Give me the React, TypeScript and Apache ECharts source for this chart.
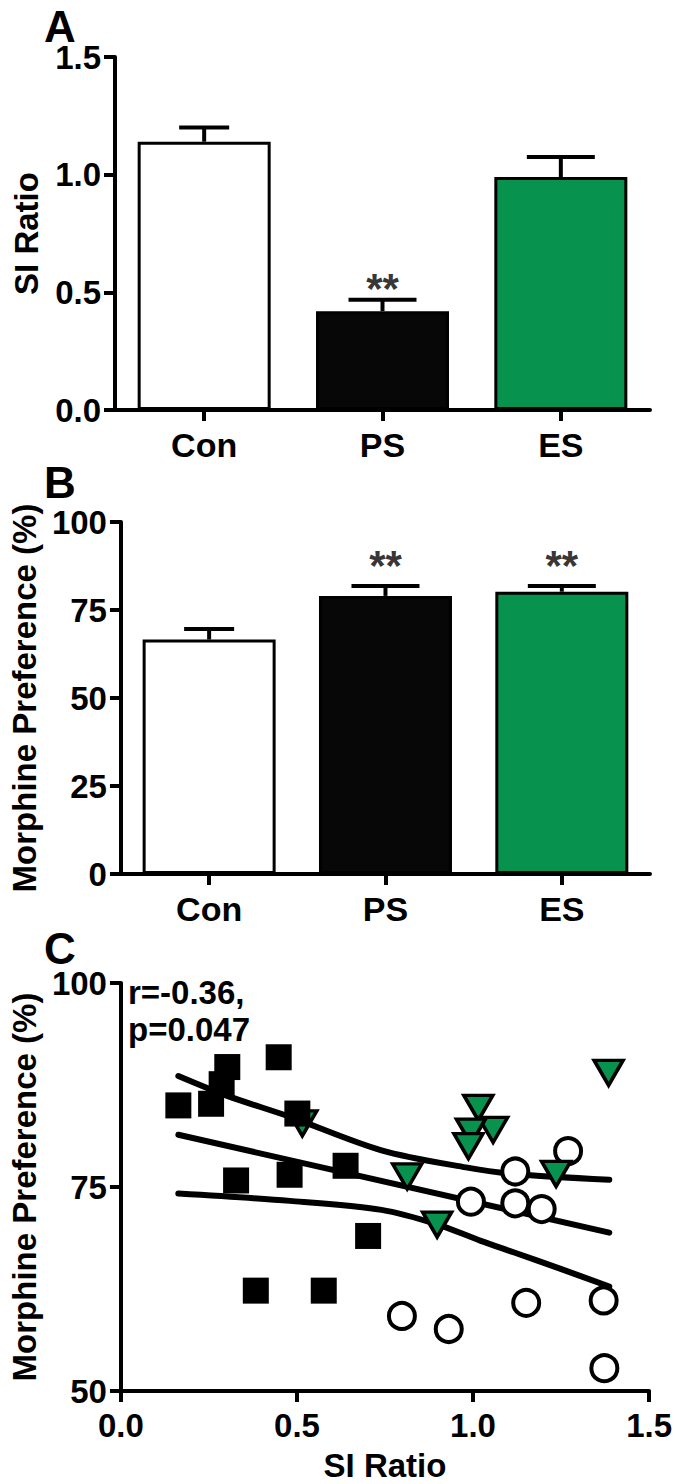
import React, { useEffect, useRef } from "react";
import * as echarts from "echarts";

// ---------- data ----------
const GROUPS = ["Con", "PS", "ES"];
const SI_MEAN = [1.14, 0.42, 0.99];
const SI_SEM = [0.06, 0.048, 0.085];
const PREF_MEAN = [66.6, 79.0, 80.2];
const PREF_SEM = [3.0, 2.8, 1.6];
// "**" significance marks: [group index, value position]
const SI_SIG = [[1, 0.515]];
const PREF_SIG = [[1, 87.6], [2, 87.6]];

// Panel C scatter: [SI ratio, morphine preference %]
const CON_POINTS = [
  [1.27, 79.4], [1.12, 76.9], [0.994, 73.2], [1.12, 73.0], [1.195, 72.3],
  [0.798, 59.2], [0.931, 57.6], [1.151, 60.8], [1.371, 61.1], [1.373, 52.8],
];
const PS_POINTS = [
  [0.163, 85.0], [0.256, 85.2], [0.286, 87.6], [0.302, 89.7], [0.448, 90.9],
  [0.501, 84.0], [0.327, 75.8], [0.479, 76.5], [0.638, 77.6], [0.702, 69.0],
  [0.383, 62.3], [0.576, 62.3],
];
const ES_POINTS = [
  [0.515, 82.8], [1.015, 84.7], [1.057, 82.0], [0.994, 81.8], [0.987, 80.0],
  [1.385, 89.0], [0.813, 76.3], [1.236, 76.6], [0.898, 70.4],
];
// regression line and 95% confidence band
const FIT_LINE = [[0.163, 81.4], [1.387, 69.4]];
const BAND_UPPER = [
  [0.163, 88.6], [0.3, 86.2], [0.48, 83.6], [0.74, 79.5], [0.98, 77.4], [1.115, 76.6], [1.387, 75.9],
];
const BAND_LOWER = [
  [0.163, 74.2], [0.48, 73.3], [0.74, 72.2], [0.9, 70.4], [1.022, 68.4], [1.115, 67.0], [1.247, 65.0], [1.387, 62.8],
];
const STATS_TEXT = ["r=-0.36,", "p=0.047"];

const SI_TICKS = { min: 0, max: 1.5, interval: 0.5 };
const PREF_TICKS = { min: 0, max: 100, interval: 25 };
const C_Y_TICKS = { min: 50, max: 100, interval: 25 };

// ---------- styles ----------
const FONT = "'Liberation Sans', Arial, Helvetica, sans-serif";
const BAR_COLORS = ["#ffffff", "#070707", "#07924e"];
const CAP_WIDTHS = [50, 68, 68];

const axisLineStyle = { show: true, lineStyle: { color: "#000", width: 4 } };
const axisTickStyle = { show: true, length: 11, lineStyle: { color: "#000", width: 4 } };

function makeErrRender() {
  return (params: any, api: any) => {
    const i = api.value(0);
    const m = api.value(1);
    const s = api.value(2);
    const p0 = api.coord([i, m]);
    const p1 = api.coord([i, m + s]);
    const hw = CAP_WIDTHS[i] / 2;
    return {
      type: "group",
      children: [
        { type: "line", shape: { x1: p0[0], y1: p0[1], x2: p1[0], y2: p1[1] }, style: { stroke: "#000", lineWidth: 4 } },
        { type: "line", shape: { x1: p1[0] - hw, y1: p1[1], x2: p1[0] + hw, y2: p1[1] }, style: { stroke: "#000", lineWidth: 4 } },
      ],
    };
  };
}

function catXAxis(gridIndex: number) {
  return {
    type: "category",
    gridIndex,
    data: GROUPS,
    axisLine: axisLineStyle,
    axisTick: { ...axisTickStyle, alignWithLabel: true },
    axisLabel: { color: "#000", fontFamily: FONT, fontWeight: "bold", fontSize: 34, lineHeight: 30, margin: 20 },
    splitLine: { show: false },
  };
}

function valYAxis(gridIndex: number, ticks: any, name: string, gap: number, decimals: number) {
  return {
    type: "value",
    gridIndex,
    min: ticks.min,
    max: ticks.max,
    interval: ticks.interval,
    name,
    nameLocation: "middle",
    nameGap: gap,
    nameTextStyle: { color: "#000", fontFamily: FONT, fontWeight: "bold", fontSize: 33 },
    axisLine: axisLineStyle,
    axisTick: axisTickStyle,
    axisLabel: {
      color: "#000", fontFamily: FONT, fontWeight: "bold", fontSize: 33, lineHeight: 22, margin: 14,
      formatter: (v: number) => v.toFixed(decimals),
    },
    splitLine: { show: false },
  };
}

function barSeries(idx: number, values: number[]) {
  return {
    type: "bar",
    xAxisIndex: idx,
    yAxisIndex: idx,
    barWidth: 133,
    z: 3,
    data: values.map((v, i) => ({
      value: v,
      itemStyle: { color: BAR_COLORS[i], borderColor: "#000", borderWidth: 3 },
    })),
  };
}

function errSeries(idx: number, means: number[], sems: number[]) {
  return {
    type: "custom",
    xAxisIndex: idx,
    yAxisIndex: idx,
    z: 2,
    renderItem: makeErrRender(),
    encode: { x: 0, y: 1 },
    data: means.map((m, i) => [i, m, sems[i]]),
  };
}

function sigSeries(idx: number, pts: number[][]) {
  return {
    type: "scatter",
    xAxisIndex: idx,
    yAxisIndex: idx,
    symbolSize: 1,
    itemStyle: { color: "rgba(0,0,0,0)" },
    label: {
      show: true, position: "inside", formatter: "**", color: "#000",
      fontFamily: FONT, fontWeight: "bold", fontSize: 42, lineHeight: 30,
    },
    data: pts,
  };
}

function lineSeries(data: number[][], smooth: number) {
  return {
    type: "line",
    xAxisIndex: 2,
    yAxisIndex: 2,
    data,
    smooth,
    showSymbol: false,
    z: 2,
    lineStyle: { color: "#000", width: 6, cap: "round" },
  };
}

export default function App() {
  const ref = useRef<HTMLDivElement>(null);
  useEffect(() => {
    if (!ref.current) return;
    const chart = echarts.init(ref.current, undefined, { renderer: "svg" });
    const letter = (t: string, y: number) => ({
      type: "text",
      left: 44,
      top: y,
      style: { text: t, fill: "#000", fontFamily: FONT, fontWeight: "bold", fontSize: 44 },
    });
    const statText = (t: string, y: number) => ({
      type: "text", left: 128, top: y,
      style: { text: t, fill: "#000", fontFamily: FONT, fontWeight: "bold", fontSize: 33 },
    });
    const option: any = {
      animation: false,
      backgroundColor: "#ffffff",
      grid: [
        { left: 115, width: 535, top: 57, height: 353 },
        { left: 116, width: 534, top: 522, height: 352 },
        { left: 116, width: 534, top: 983, height: 408 },
      ],
      xAxis: [
        catXAxis(0),
        catXAxis(1),
        {
          type: "value",
          gridIndex: 2,
          min: 0,
          max: 1.5,
          interval: 0.5,
          name: "SI Ratio",
          nameLocation: "middle",
          nameGap: 58,
          nameTextStyle: { color: "#000", fontFamily: FONT, fontWeight: "bold", fontSize: 33 },
          axisLine: axisLineStyle,
          axisTick: axisTickStyle,
          axisLabel: {
            color: "#000", fontFamily: FONT, fontWeight: "bold", fontSize: 33, lineHeight: 28, margin: 20,
            formatter: (v: number) => v.toFixed(1),
          },
          splitLine: { show: false },
        },
      ],
      yAxis: [
        valYAxis(0, SI_TICKS, "SI Ratio", 72, 1),
        valYAxis(1, PREF_TICKS, "Morphine Preference (%)", 75, 0),
        valYAxis(2, C_Y_TICKS, "Morphine Preference (%)", 75, 0),
      ],
      graphic: [
        letter("A", 4),
        letter("B", 460),
        letter("C", 926),
        statText(STATS_TEXT[0], 976),
        statText(STATS_TEXT[1], 1013),
      ],
      series: [
        errSeries(0, SI_MEAN, SI_SEM),
        barSeries(0, SI_MEAN),
        sigSeries(0, SI_SIG),
        errSeries(1, PREF_MEAN, PREF_SEM),
        barSeries(1, PREF_MEAN),
        sigSeries(1, PREF_SIG),
        lineSeries(BAND_UPPER, 0.3),
        lineSeries(FIT_LINE, 0),
        lineSeries(BAND_LOWER, 0.3),
        {
          type: "scatter", xAxisIndex: 2, yAxisIndex: 2, z: 3,
          symbol: "circle", symbolSize: 26,
          itemStyle: { color: "#ffffff", borderColor: "#000", borderWidth: 4, opacity: 1 },
          data: CON_POINTS,
        },
        {
          type: "scatter", xAxisIndex: 2, yAxisIndex: 2, z: 4,
          symbol: "triangle", symbolSize: [29, 25], symbolRotate: 180,
          itemStyle: { color: "#07924e", borderColor: "#000", borderWidth: 3.5, opacity: 1 },
          data: ES_POINTS,
        },
        {
          type: "scatter", xAxisIndex: 2, yAxisIndex: 2, z: 5,
          symbol: "rect", symbolSize: 26,
          itemStyle: { color: "#000", opacity: 1 },
          data: PS_POINTS,
        },
      ],
    };
    chart.setOption(option);
    return () => chart.dispose();
  }, []);
  return (
    <div
      ref={ref}
      style={{ position: "absolute", left: 0, top: 0, width: 675, height: 1484, background: "#fff" }}
    />
  );
}
